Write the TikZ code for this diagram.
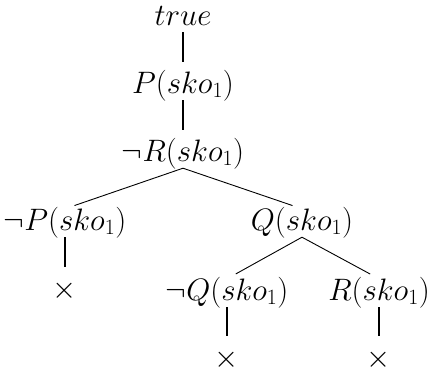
\RequirePackage{fix-cm}
\documentclass[tikz,border=0pt]{standalone}
\usepackage{amssymb}
\usetikzlibrary{positioning}

\begin{document}
\begin{tikzpicture}[
    x=1pt, y=-1pt,
    formula/.style={anchor=base, inner sep=0pt, text height=21pt, text depth=7pt, font=\fontsize{31}{37}\selectfont},
    stem/.style={line width=1.4pt, shorten >=10pt},
    fork/.style={line width=0.9pt, shorten >=10pt}
]
\useasboundingbox (0,0) rectangle (430,375);

% Trunk
\node[formula] (top) at (183,25) {$true$};
\node[formula] (p) at (183,93) {$P(sko_1)$};
\node[formula] (nr) at (183,161) {$\neg R(sko_1)$};

% First split
\node[formula] (np) at (65,230) {$\neg P(sko_1)$};
\node[formula] (q) at (302,230) {$Q(sko_1)$};
\node[formula] (xa) at (65,298) {$\times$};

% Second split
\node[formula] (nq) at (227,300) {$\neg Q(sko_1)$};
\node[formula] (r) at (379,300) {$R(sko_1)$};
\node[formula] (xb) at (227,367) {$\times$};
\node[formula] (xc) at (379,367) {$\times$};

% Edges
\draw[stem] (top.south) -- (p.north);
\draw[stem] (p.south) -- (nr.north);
\draw[fork] (nr.south) -- (np.north);
\draw[fork] (nr.south) -- (q.north);
\draw[stem] (np.south) -- (xa.north);
\draw[fork] (q.south) -- (nq.north);
\draw[fork] (q.south) -- (r.north);
\draw[stem] (nq.south) -- (xb.north);
\draw[stem] (r.south) -- (xc.north);

\end{tikzpicture}
\end{document}
